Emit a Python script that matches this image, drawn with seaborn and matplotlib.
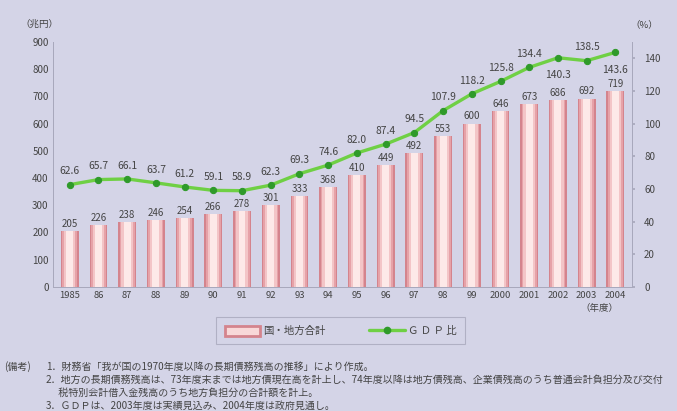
import numpy as np
import pandas as pd
import matplotlib
matplotlib.use("Agg")
import matplotlib.pyplot as plt
from matplotlib.patches import Patch
from matplotlib.lines import Line2D
import seaborn as sns

years = ["1985", "86", "87", "88", "89", "90", "91", "92", "93", "94", "95", "96",
         "97", "98", "99", "2000", "2001", "2002", "2003", "2004"]
debt = [205, 226, 238, 246, 254, 266, 278, 301, 333, 368, 410, 449, 492, 553, 600,
        646, 673, 686, 692, 719]
gdp_ratio = [62.6, 65.7, 66.1, 63.7, 61.2, 59.1, 58.9, 62.3, 69.3, 74.6, 82.0, 87.4,
             94.5, 107.9, 118.2, 125.8, 134.4, 140.3, 138.5, 143.6]
left_ticks = [0, 100, 200, 300, 400, 500, 600, 700, 800, 900]
right_ticks = [0, 20, 40, 60, 80, 100, 120, 140]
legend_labels = ["国・地方合計", "Ｇ Ｄ Ｐ 比"]
notes = [
    "1．財務省「我が国の1970年度以降の長期債務残高の推移」により作成。",
    "2．地方の長期債務残高は、73年度末までは地方債現在高を計上し、74年度以降は地方債残高、企業債残高のうち普通会計負担分及び交付",
    "　 税特別会計借入金残高のうち地方負担分の合計額を計上。",
    "3．ＧＤＰは、2003年度は実績見込み、2004年度は政府見通し。",
]

sns.set_theme(style="white")
plt.rcParams["font.family"] = ["Noto Sans CJK JP", "DejaVu Sans"]

BG = "#d4d4e7"
TXT = "#444444"
df = pd.DataFrame({"year": years, "debt": debt, "ratio": gdp_ratio})
df["pos"] = np.arange(len(years))

fig = plt.figure(figsize=(6.77, 4.11), dpi=100, facecolor=BG)
ax = fig.add_axes([0.078, 0.302, 0.856, 0.596])
ax.set_facecolor(BG)

# layered bars to imitate cylindrical gradient
layers = [(0.62, "#d4848d"), (0.52, "#e6a2a8"), (0.4, "#f3c5c7"), (0.24, "#fde9e8")]
for w, c in layers:
    sns.barplot(data=df, x="year", y="debt", color=c, width=w, ax=ax,
                saturation=1, linewidth=0, order=years)
outer = ax.containers[0]
ax.bar_label(outer, labels=[str(v) for v in debt], padding=1.5, fontsize=7, color=TXT)

ax.set_ylim(0, 900)
ax.set_xlim(-0.59, 19.59)
ax.set_yticks(left_ticks)
ax.set_yticklabels([str(t) for t in left_ticks], fontsize=7, color=TXT)
ax.set_xticks(range(len(years)))
ax.set_xticklabels(years, fontsize=6.8, color=TXT)
ax.set_xlabel("")
ax.set_ylabel("")
ax.tick_params(axis="both", length=0, pad=3)
ax.spines["top"].set_visible(False)
for s in ["left", "right", "bottom"]:
    ax.spines[s].set_color("#a8a8bc")
    ax.spines[s].set_linewidth(0.7)

ax2 = ax.twinx()
sns.lineplot(data=df, x="pos", y="ratio", ax=ax2, color="#6fd044", linewidth=2.4,
             marker="o", markersize=4.5, markerfacecolor="#2f9a2a",
             markeredgecolor="#2f9a2a")
ax2.set_ylim(0, 150)
ax2.set_xlim(-0.59, 19.59)
ax2.set_yticks(right_ticks)
ax2.set_yticklabels([str(t) for t in right_ticks], fontsize=7, color=TXT)
ax2.tick_params(axis="y", length=2.5, pad=6, color="#a8a8bc", right=True)
ax2.set_ylabel("")
ax2.set_xlabel("")
ax2.spines["top"].set_visible(False)
for s in ["left", "right", "bottom"]:
    ax2.spines[s].set_color("#a8a8bc")
    ax2.spines[s].set_linewidth(0.7)

below = {"2002", "2004"}
for i, (y, r) in enumerate(zip(years, gdp_ratio)):
    off = -9 if y in below else 6
    va = "top" if y in below else "bottom"
    ax2.annotate(f"{r:.1f}", (i, r), xytext=(0, off), textcoords="offset points",
                 ha="center", va=va, fontsize=7.4, color=TXT)

fig.text(0.058, 0.94, "（兆円）", fontsize=6.8, color=TXT, ha="center", va="center")
fig.text(0.952, 0.94, "（%）", fontsize=6.8, color=TXT, ha="center", va="center")
fig.text(0.885, 0.249, "（年度）", fontsize=6.8, color=TXT, ha="center", va="center")

handles = [Patch(facecolor="#f8d8d8", edgecolor="#d4848d", linewidth=2.0),
           Line2D([0], [0], color="#6fd044", linewidth=2.4, marker="o",
                  markersize=4.5, markerfacecolor="#2f9a2a", markeredgecolor="#2f9a2a")]
leg = fig.legend(handles, legend_labels, loc="center", bbox_to_anchor=(0.503, 0.195),
                 ncol=2, fontsize=7.5, frameon=True, fancybox=False, edgecolor="#a8a8bc",
                 facecolor=BG, handlelength=3.4, handleheight=1.1, columnspacing=4.2,
                 borderpad=0.8, borderaxespad=0, handletextpad=0.3, labelcolor=TXT)
leg.get_frame().set_linewidth(0.8)

fig.text(0.006, 1 - 367 / 411, "(備考)", fontsize=7.2, color=TXT, va="center")
ys = [367, 380, 393, 406]
for y, t in zip(ys, notes):
    fig.text(0.068, 1 - y / 411, t, fontsize=7.2, color=TXT, va="center")

fig.savefig("out.png", dpi=100, facecolor=BG)
